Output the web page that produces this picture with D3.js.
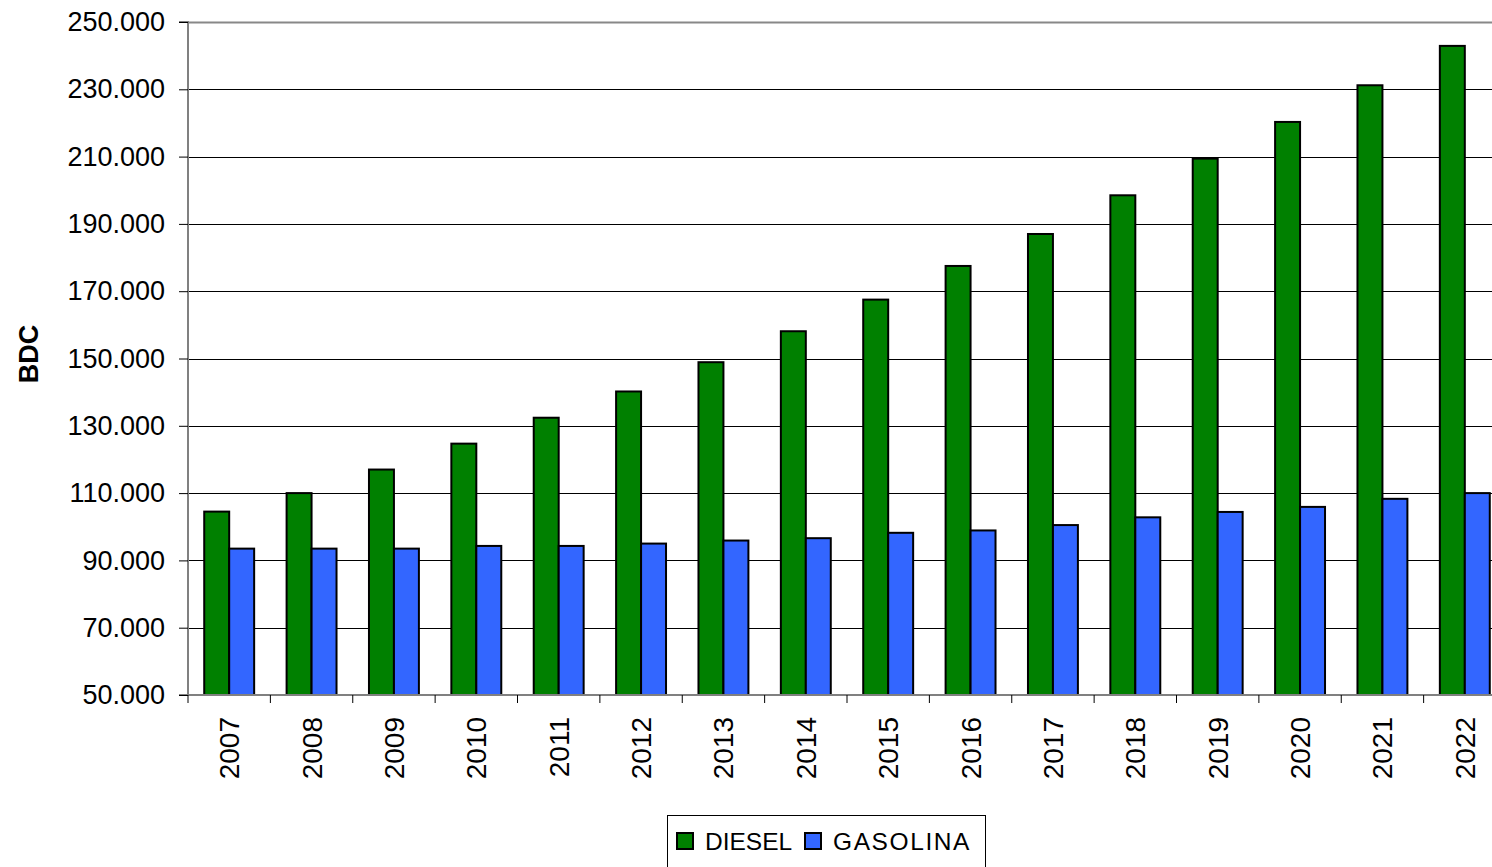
<!DOCTYPE html>
<html><head><meta charset="utf-8">
<script src="https://cdn.jsdelivr.net/npm/d3@7"></script>
<style>
html,body{margin:0;padding:0;background:#fff;overflow:hidden;}
svg text{font-family:"Liberation Sans",Arial,sans-serif;}
</style></head>
<body>
<script>
const years = ["2007","2008","2009","2010","2011","2012","2013","2014","2015","2016","2017","2018","2019","2020","2021","2022"];
const diesel = [104500,110000,117000,124700,132400,140200,148900,158100,167500,177500,187000,198500,209400,220300,231200,242900];
const gasolina = [93500,93500,93500,94300,94300,95000,95900,96600,98200,98900,100500,102800,104400,105900,108300,110000];
const yTicks = [50000,70000,90000,110000,130000,150000,170000,190000,210000,230000,250000];
const seriesNames = ["DIESEL","GASOLINA"];
const colors = ["#008000","#3366FF"];

const W = 1492, H = 867;
const mLeft = 188, mRight = 1506, mTop = 22, mBottom = 695;

const svg = d3.select("body").append("svg").attr("width", W).attr("height", H);

const y = d3.scaleLinear().domain([50000, 250000]).range([mBottom, mTop]);
const x = d3.scaleBand().domain(years).range([mLeft, mRight]).paddingInner(0).paddingOuter(0);
const inner = d3.scaleBand().domain(seriesNames).range([0, x.bandwidth()]).paddingInner(0).paddingOuter(0.65);

// gridlines
svg.append("g").selectAll("line").data(yTicks).join("line")
  .attr("x1", mLeft).attr("x2", W)
  .attr("y1", d => Math.round(y(d)) + 0.5).attr("y2", d => Math.round(y(d)) + 0.5)
  .attr("stroke", d => d === 250000 ? "#888" : "#000")
  .attr("stroke-width", d => d === 250000 ? 2 : 1);

// bars
const data = years.map((yr, i) => ({yr, vals: [diesel[i], gasolina[i]]}));
const g = svg.append("g");
data.forEach(d => {
  d.vals.forEach((v, j) => {
    g.append("rect")
      .attr("x", x(d.yr) + inner(seriesNames[j]))
      .attr("y", y(v))
      .attr("width", inner.bandwidth())
      .attr("height", y(50000) - y(v))
      .attr("fill", colors[j])
      .attr("stroke", "#000")
      .attr("stroke-width", 2);
  });
});

// y axis
const yAxis = d3.axisLeft(y).tickValues(yTicks).tickSize(9).tickPadding(14)
  .tickFormat(d => d3.format(",")(d).replace(/,/g, "."));
const ya = svg.append("g").attr("transform", `translate(${mLeft},0)`).call(yAxis);
ya.select(".domain").attr("stroke", "#808080").attr("stroke-width", 2).attr("d", `M-9,${mTop}H0V${mBottom}H-9`);
ya.selectAll(".tick line").attr("stroke", "#000");
ya.selectAll(".tick text").attr("font-size", 27).attr("fill", "#000").attr("font-family", "Liberation Sans, Arial, sans-serif");

// x axis
const xa = svg.append("g").attr("transform", `translate(0,${mBottom})`);
xa.append("line").attr("x1", mLeft).attr("x2", W).attr("y1", 0).attr("y2", 0).attr("stroke", "#808080").attr("stroke-width", 2);
xa.selectAll(".xt").data(years.concat(["end"])).join("line")
  .attr("x1", (d, i) => mLeft + i * x.step()).attr("x2", (d, i) => mLeft + i * x.step())
  .attr("y1", 0).attr("y2", 8).attr("stroke", "#000");
xa.selectAll(".xl").data(years).join("text")
  .attr("transform", d => `translate(${x(d) + x.bandwidth() / 2 + 10},22) rotate(-90)`)
  .attr("text-anchor", "end")
  .attr("font-size", 28)
  .attr("fill", "#000")
  .text(d => d);

// y title
svg.append("text")
  .attr("transform", `translate(38,354) rotate(-90)`)
  .attr("text-anchor", "middle")
  .attr("font-size", 27).attr("font-weight", "bold")
  .text("BDC");

// legend
const lg = svg.append("g");
lg.append("rect").attr("x", 667.5).attr("y", 815.5).attr("width", 318).attr("height", 60)
  .attr("fill", "#fff").attr("stroke", "#000").attr("stroke-width", 1);
const legX = [677, 805];
seriesNames.forEach((s, i) => {
  lg.append("rect").attr("x", legX[i]).attr("y", 833).attr("width", 16).attr("height", 16)
    .attr("fill", colors[i]).attr("stroke", "#000").attr("stroke-width", 2);
  lg.append("text").attr("x", legX[i] + 28).attr("y", 849.5)
    .attr("font-size", 24.5).attr("fill", "#000")
    .attr("letter-spacing", i === 1 ? 1.6 : 0)
    .text(s);
});
</script>
</body></html>
